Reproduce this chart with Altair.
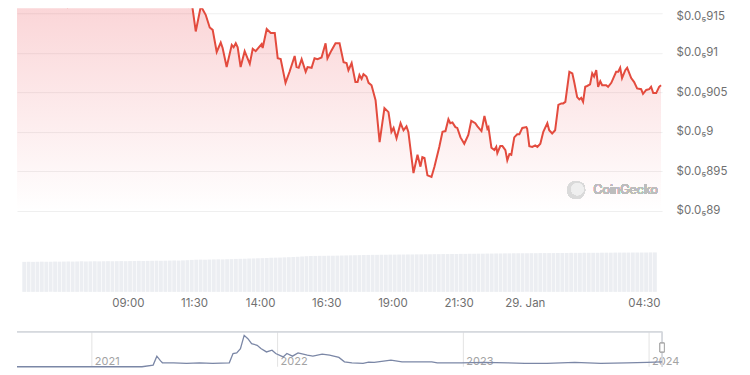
import json
import altair as alt
import pandas as pd

# ---- main price series (hours after 05:00, 28 Jan; price in 1e-8 USD) ----
HOURS = [0.00, 0.30, 0.59, 0.85, 1.15, 1.41, 1.60, 1.71, 1.89, 2.04,
         2.19, 2.27, 2.53, 2.79, 2.97, 3.20, 3.46, 3.75, 4.01, 4.31,
         4.57, 4.87, 5.13, 5.39, 5.68, 5.98, 6.17, 6.32, 6.39, 6.50,
         6.65, 6.84, 7.02, 7.17, 7.28, 7.43, 7.58, 7.65, 7.80, 7.99,
         8.06, 8.14, 8.21, 8.32, 8.47, 8.66, 8.77, 8.88, 8.95, 9.10,
         9.14, 9.29, 9.44, 9.59, 9.70, 9.81, 9.99, 10.14, 10.33, 10.40,
         10.48, 10.59, 10.74, 10.81, 10.96, 11.07, 11.18, 11.33, 11.48, 11.55,
         11.70, 11.85, 12.00, 12.15, 12.26, 12.33, 12.45, 12.59, 12.67, 12.74,
         12.82, 12.89, 13.00, 13.08, 13.19, 13.34, 13.49, 13.67, 13.82, 13.93,
         14.01, 14.12, 14.27, 14.38, 14.49, 14.56, 14.75, 14.90, 15.01, 15.08,
         15.16, 15.27, 15.42, 15.53, 15.71, 15.83, 15.94, 16.05, 16.12, 16.20,
         16.31, 16.38, 16.50, 16.64, 16.79, 16.90, 17.05, 17.13, 17.28, 17.39,
         17.50, 17.54, 17.65, 17.76, 17.83, 17.87, 17.98, 18.06, 18.17, 18.24,
         18.32, 18.39, 18.50, 18.61, 18.69, 18.80, 18.95, 18.98, 19.06, 19.17,
         19.28, 19.36, 19.47, 19.58, 19.73, 19.80, 19.91, 20.02, 20.14, 20.25,
         20.32, 20.40, 20.55, 20.66, 20.73, 20.84, 20.92, 20.99, 21.06, 21.14,
         21.21, 21.32, 21.40, 21.47, 21.55, 21.62, 21.70, 21.77, 21.92, 21.99,
         22.11, 22.29, 22.37, 22.44, 22.51, 22.63, 22.70, 22.85, 22.96, 23.07,
         23.22, 23.29, 23.41, 23.52, 23.59, 23.67, 23.78, 23.89, 23.96]

PRICES = [919.2, 918.5, 919.4, 918.2, 918.9, 917.7, 917.2, 916.6, 915.8, 916.3,
          916.4, 917.0, 917.9, 917.3, 916.6, 917.7, 918.5, 917.9, 919.2, 918.4,
          919.4, 918.2, 918.9, 917.9, 918.7, 917.7, 917.2, 916.6, 915.9, 916.4,
          912.7, 915.9, 914.8, 913.2, 912.9, 910.1, 911.3, 910.6, 908.2, 911.0,
          910.7, 911.2, 910.7, 908.2, 910.2, 908.6, 910.5, 910.2, 910.5, 911.1,
          910.6, 913.0, 912.5, 912.5, 909.3, 909.2, 906.2, 907.6, 909.6, 908.2,
          908.1, 909.2, 907.6, 908.2, 908.1, 909.3, 909.2, 909.4, 911.2, 909.3,
          910.3, 911.2, 911.2, 908.8, 908.7, 907.8, 908.7, 906.3, 906.3, 907.2,
          906.7, 907.3, 907.0, 906.2, 905.9, 904.0, 898.7, 903.0, 902.5, 900.0,
          900.5, 899.2, 901.1, 900.2, 900.7, 900.0, 894.8, 897.1, 895.6, 896.8,
          896.7, 894.5, 894.3, 895.6, 898.1, 900.0, 900.1, 901.6, 901.1, 901.2,
          900.6, 900.5, 899.3, 898.5, 899.6, 901.4, 901.1, 900.7, 900.1, 902.0,
          900.4, 900.6, 898.0, 897.7, 898.1, 897.3, 898.2, 898.2, 897.7, 896.4,
          897.2, 897.1, 899.3, 899.7, 899.7, 900.5, 900.6, 900.4, 898.2, 898.1,
          898.3, 898.1, 898.5, 900.0, 901.1, 900.2, 899.8, 900.2, 903.4, 903.6,
          903.6, 903.8, 907.6, 907.4, 906.3, 904.4, 904.1, 904.3, 903.8, 905.7,
          905.8, 906.0, 907.4, 907.0, 907.8, 905.7, 906.4, 905.9, 905.9, 905.7,
          906.2, 907.6, 907.6, 908.1, 906.8, 907.8, 908.1, 906.8, 906.3, 905.5,
          905.4, 904.8, 905.3, 905.4, 905.7, 904.9, 904.9, 905.7, 905.9]

# ---- 24h volume, one bar per 10 minutes (arbitrary units) ----
VOLUME = [30.8, 30.9, 30.8, 30.9, 31.0, 30.9, 31.0, 31.1, 31.0, 31.1, 31.2, 31.1,
          31.2, 31.3, 31.2, 31.3, 31.4, 31.3, 31.4, 31.5, 31.4, 31.5, 31.6, 31.5,
          31.6, 31.7, 31.8, 31.7, 31.8, 31.9, 32.0, 31.9, 32.0, 32.1, 32.2, 32.1,
          32.3, 32.5, 32.8, 33.0, 33.1, 33.0, 33.2, 33.3, 33.4, 33.3, 33.5, 33.6,
          33.8, 33.9, 34.0, 34.2, 34.3, 34.5, 34.6, 34.8, 34.9, 35.1, 35.2, 35.4,
          35.6, 35.8, 36.0, 36.3, 36.6, 36.8, 36.9, 37.0, 37.0, 37.1, 37.1, 37.2,
          37.3, 37.4, 37.5, 37.6, 37.7, 37.8, 37.9, 38.0, 38.0, 38.1, 38.1, 38.2,
          38.2, 38.3, 38.3, 38.4, 38.4, 38.5, 38.5, 38.6, 38.6, 38.7, 38.7, 38.8,
          38.8, 38.9, 38.9, 39.0, 39.0, 39.1, 39.1, 39.2, 39.2, 39.3, 39.3, 39.4,
          39.4, 39.5, 39.5, 39.6, 39.6, 39.6, 39.7, 39.7, 39.7, 39.8, 39.8, 39.8,
          39.8, 39.9, 39.9, 39.9, 40.0, 40.0, 40.0, 40.1, 40.1, 40.1, 40.1, 40.2,
          40.2, 40.2, 40.3, 40.3, 40.3, 40.3, 40.4, 40.4, 40.4, 40.4, 40.5, 40.5]
VOL_STEP_H = 10 / 60

TIME_TICKS = [4, 6.5, 9, 11.5, 14, 16.5, 19, 23.5]
TIME_LABELS = ["09:00", "11:30", "14:00", "16:30", "19:00", "21:30", "29. Jan", "04:30"]
PRICE_TICKS = [890, 895, 900, 905, 910, 915]

# ---- navigator: full history (year, price in 1e-8 USD) ----
NAV_YEARS = [2020.597, 2021.27, 2021.33, 2021.35, 2021.37, 2021.38, 2021.44, 2021.51,
             2021.58, 2021.65, 2021.74, 2021.76, 2021.78, 2021.80, 2021.82, 2021.84,
             2021.86, 2021.89, 2021.91, 2021.94, 2021.97, 2021.99, 2022.03, 2022.05,
             2022.08, 2022.11, 2022.16, 2022.19, 2022.24, 2022.28, 2022.33, 2022.36,
             2022.40, 2022.46, 2022.49, 2022.52, 2022.61, 2022.67, 2022.74, 2022.83,
             2022.86, 2022.99, 2023.11, 2023.24, 2023.33, 2023.45, 2023.60, 2023.74,
             2023.88, 2023.99, 2024.07]
NAV_VALUES = [0, 0, 300, 1930, 1080, 720, 720, 610,
              720, 610, 720, 2410, 2520, 3310, 5710, 5110,
              4210, 3910, 3310, 2700, 3010, 2410, 1800, 2410,
              1930, 2520, 2110, 1930, 2290, 2110, 1690, 900,
              720, 610, 840, 790, 1210, 900, 900, 900,
              720, 720, 790, 720, 610, 610, 790, 610,
              720, 790, 900]
YEAR_TICKS = [2021, 2022, 2023, 2024]
YEAR_LABELS = ["2021", "2022", "2023", "2024"]
NAV_START, NAV_END, NAV_TOP = 2020.597, 2024.07, 6360

assert len(HOURS) == len(PRICES)
assert len(NAV_YEARS) == len(NAV_VALUES)

FONT = "Inter"
LABEL_COLOR = "#707070"

price_df = pd.DataFrame({"h": HOURS, "p": PRICES})
vol_df = pd.DataFrame({"i": list(range(len(VOLUME))), "v": VOLUME})
nav_df = pd.DataFrame({"yr": NAV_YEARS, "v": NAV_VALUES})
year_df = pd.DataFrame({"yr": YEAR_TICKS, "label": YEAR_LABELS})

hx = alt.Scale(domain=[0, 24], nice=False, zero=False)
py = alt.Scale(domain=[890, 915], range=[203, 5], nice=False, zero=False)

price_label_expr = "'$0.0\u2085' + replace(format(datum.value / 1000, '.3~f'), '0.', '')"
price_axis = alt.Axis(orient="right", values=PRICE_TICKS, grid=True, gridColor="#efefef",
                      gridWidth=1, domain=False, ticks=False, labelPadding=14,
                      labelFontSize=11.5, labelColor=LABEL_COLOR, labelFont=FONT,
                      title=None, labelExpr=price_label_expr, labelOverlap=False,
                      labelOffset={"condition": {"test": "datum.value >= 915", "value": 3}, "value": 0})

area = alt.Chart(price_df).mark_area(
    clip=True,
    color=alt.Gradient(gradient="linear", x1=0, x2=0, y1=0, y2=1,
                       stops=[alt.GradientStop(offset=0, color="rgba(234,57,67,0.24)"),
                              alt.GradientStop(offset=1, color="rgba(234,57,67,0.0)")]),
).encode(
    x=alt.X("h:Q", scale=hx, axis=None),
    y=alt.Y("p:Q", scale=py, axis=price_axis),
    y2=alt.datum(890),
)
line = alt.Chart(price_df).mark_line(clip=True, color="#e34b3e", strokeWidth=2).encode(
    x=alt.X("h:Q", scale=hx, axis=None),
    y=alt.Y("p:Q", scale=py, axis=price_axis),
)
logo_outer = alt.Chart(price_df).mark_circle(size=330, color="#dadada", opacity=1).encode(
    x=alt.X(datum=20.8, scale=hx, axis=None), y=alt.Y(datum=892.65, scale=py, axis=price_axis))
logo_inner = alt.Chart(price_df).mark_circle(size=150, color="#efefef", opacity=1).encode(
    x=alt.X(datum=20.85, scale=hx, axis=None), y=alt.Y(datum=892.75, scale=py, axis=price_axis))
logo_text = alt.Chart(price_df).mark_text(
    text="CoinGecko", align="left", baseline="middle", fontSize=12.5, font=FONT,
    color="#bdbdbd").encode(
    x=alt.X(datum=21.44, scale=hx, axis=None), y=alt.Y(datum=892.65, scale=py, axis=price_axis))

price_layer = alt.layer(area, line, logo_outer, logo_inner, logo_text)

time_label_expr = "{}[indexof({}, datum.value)]".format(json.dumps(TIME_LABELS), json.dumps(TIME_TICKS))
time_axis = alt.Axis(orient="bottom", offset=-78, values=TIME_TICKS, labelExpr=time_label_expr,
                     domain=False, ticks=False, grid=False, labelPadding=6,
                     labelFontSize=11.5, labelColor=LABEL_COLOR, labelFont=FONT,
                     title=None, labelFlush=False, labelOverlap=False)

vol_layer = alt.Chart(vol_df).transform_calculate(
    h=f"(datum.i + 0.5) * {VOL_STEP_H}"
).mark_bar(width=3.8, color="#eceef2").encode(
    x=alt.X("h:Q", scale=hx, axis=time_axis),
    y=alt.Y("v:Q", scale=alt.Scale(domain=[0, 41], range=[284, 244], nice=False, zero=True), axis=None),
)

nx = alt.Scale(domain=[NAV_START, NAV_END], nice=False, zero=False)
ny = alt.Scale(domain=[0, NAV_TOP], range=[359, 324], nice=False, zero=False)

nav_grid = alt.Chart(year_df).mark_rule(color="#e3e3e3", strokeWidth=1).encode(
    x=alt.X("yr:Q", scale=nx, axis=None),
    y=alt.Y(datum=0, scale=ny, axis=None),
    y2=alt.datum(NAV_TOP),
)
nav_labels = alt.Chart(year_df).mark_text(
    align="left", baseline="alphabetic", dx=3, dy=-2, fontSize=11, font=FONT, color="#a3a3a3"
).encode(
    x=alt.X("yr:Q", scale=nx, axis=None),
    y=alt.Y(datum=0, scale=ny, axis=None),
    text="label:N",
)
nav_top = alt.Chart(year_df).mark_rule(color="#d5d8dd", strokeWidth=1).encode(
    x=alt.X(datum=NAV_START, scale=nx, axis=None), x2=alt.datum(NAV_END),
    y=alt.Y(datum=NAV_TOP, scale=ny, axis=None),
)
nav_right = alt.Chart(year_df).mark_rule(color="#d5d8dd", strokeWidth=1).encode(
    x=alt.X(datum=NAV_END, scale=nx, axis=None),
    y=alt.Y(datum=0, scale=ny, axis=None), y2=alt.datum(NAV_TOP),
)
nav_line = alt.Chart(nav_df).mark_line(color="#7b87a6", strokeWidth=1.3).encode(
    x=alt.X("yr:Q", scale=nx, axis=None),
    y=alt.Y("v:Q", scale=ny, axis=None),
)
nav_handle = alt.Chart(year_df).mark_rect(fill="#ffffff", stroke="#a8a8a8", strokeWidth=1).encode(
    x=alt.X(datum=2024.058, scale=nx, axis=None), x2=alt.datum(2024.082),
    y=alt.Y(datum=2700, scale=ny, axis=None), y2=alt.datum(4300),
)

nav_layer = alt.layer(nav_grid, nav_labels, nav_top, nav_right, nav_line, nav_handle)

chart = alt.layer(price_layer, vol_layer, nav_layer).resolve_scale(
    x="independent", y="independent"
).properties(
    width=646, height=362,
    padding={"left": 9, "top": 0, "right": 80, "bottom": 0},
    autosize=alt.AutoSizeParams(type="none"),
    background="white",
).configure_view(stroke=None)

chart.save("out.html", embed_options={"renderer": "svg", "actions": False})
